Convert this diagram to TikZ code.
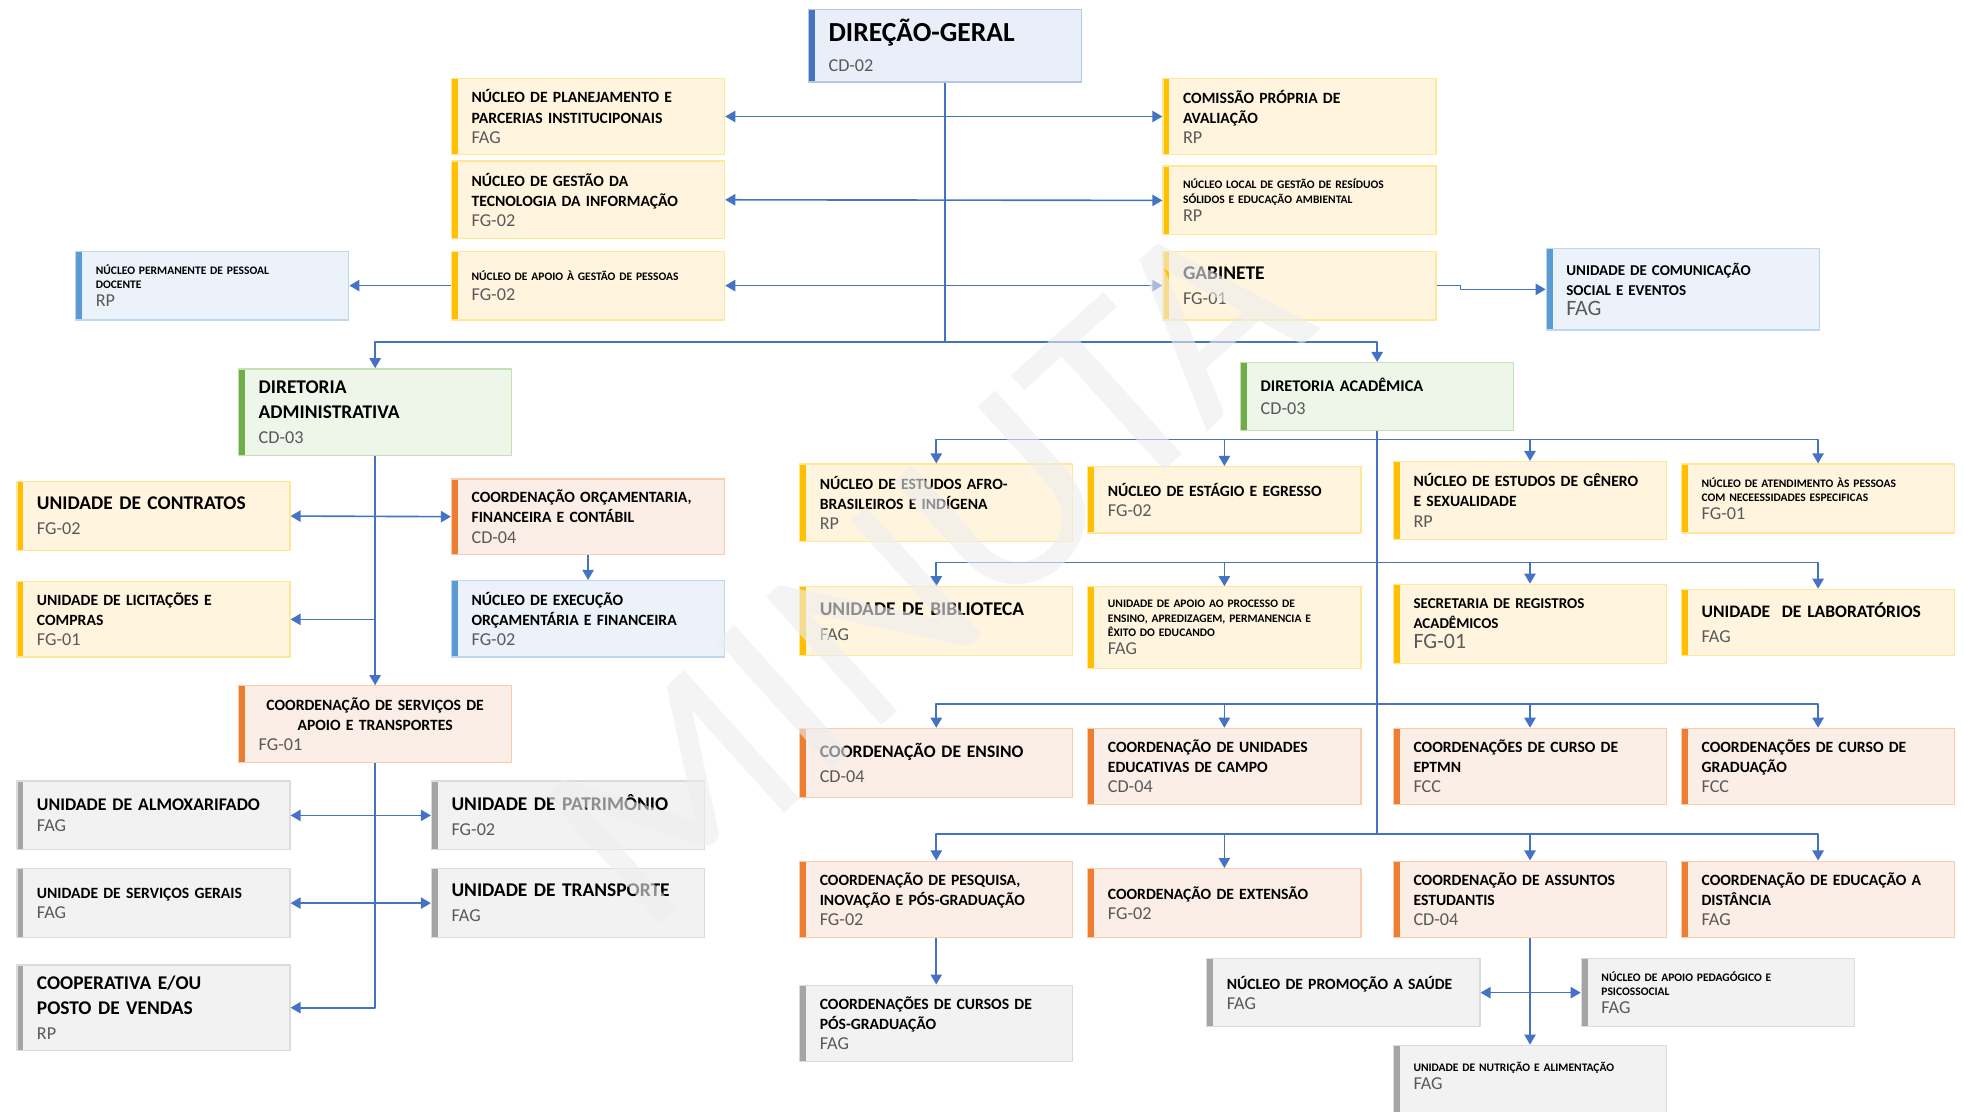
\documentclass[tikz,border=0pt]{standalone}
\usepackage{fontspec}
\setmainfont{Carlito}
\usetikzlibrary{arrows.meta}
\definecolor{amarelo}{HTML}{FFC000}\definecolor{amareloF}{HTML}{FFF5DF}\definecolor{amareloB}{HTML}{FFE699}
\definecolor{laranja}{HTML}{ED7D31}\definecolor{laranjaF}{HTML}{FBEEE6}\definecolor{laranjaB}{HTML}{F8CBAD}
\definecolor{azul}{HTML}{5B9BD5}\definecolor{azulF}{HTML}{EBF2FA}\definecolor{azulB}{HTML}{BDD7EE}
\definecolor{verde}{HTML}{70AD47}\definecolor{verdeF}{HTML}{EEF5E9}\definecolor{verdeB}{HTML}{C5E0B4}
\definecolor{cinza}{HTML}{A5A5A5}\definecolor{cinzaF}{HTML}{F2F2F2}\definecolor{cinzaB}{HTML}{DBDBDB}
\definecolor{anil}{HTML}{4472C4}\definecolor{anilF}{HTML}{E9EEF8}\definecolor{anilB}{HTML}{B4C7E7}
\definecolor{seta}{HTML}{4472C4}\definecolor{codigo}{HTML}{595959}\definecolor{marca}{HTML}{EDEDED}
\newcommand\cod[1]{{\mdseries\fontsize{14.5}{17}\selectfont\color{codigo}#1}}
\newcommand\codG[1]{{\mdseries\fontsize{17.5}{20}\selectfont\color{codigo}#1}}
\begin{document}
\begin{tikzpicture}[x=1pt,y=-1pt,>={Triangle[length=8pt,width=9pt]},line join=round,
	caixa/.style={anchor=north west,rectangle,draw=#1B,fill=#1F,line width=1pt,inner xsep=16pt,inner ysep=1pt,
		text width=186pt,minimum height=55,align=left,font=\bfseries\fontsize{12.5}{16}\selectfont,
		path picture={\fill[#1] ([xshift=-1pt]path picture bounding box.north west) rectangle ([xshift=5pt]path picture bounding box.south west);}},
	grande/.style={font=\bfseries\fontsize{15.5}{20}\selectfont},
	miudo/.style={font=\bfseries\fontsize{9.2}{11.5}\selectfont},
	liga/.style={seta,line width=1.3pt}]
	\useasboundingbox (0,0) rectangle (1568,887);
	\path (0,273) coordinate (nivel)
	(0,351) coordinate (r1) (0,449) coordinate (r2)
	(0,562) coordinate (r3) (0,666) coordinate (r4);
	% direcao geral e assessorias
	\node[caixa=anil,minimum height=58,font=\bfseries\fontsize{22}{24}\selectfont] (dg) at (645,7) {DIREÇÃO-GERAL\\\cod{CD-02}};
	\node[caixa=amarelo,minimum height=61] (nplan) at (360,62) {NÚCLEO DE PLANEJAMENTO E\\PARCERIAS INSTITUCIPONAIS\\\cod{FAG}};
	\node[caixa=amarelo,minimum height=62] (ngti) at (360,128) {NÚCLEO DE GESTÃO DA\\TECNOLOGIA DA INFORMAÇÃO\\\cod{FG-02}};
	\node[caixa=amarelo,miudo] (nagp) at (360,200) {NÚCLEO DE APOIO À GESTÃO DE PESSOAS\\[4pt]\cod{FG-02}\\[12pt]};
	\node[caixa=azul,miudo] (nppd) at (60,200) {NÚCLEO PERMANENTE DE PESSOAL\\DOCENTE\\[3pt]\cod{RP}};
	\node[caixa=amarelo,minimum height=61] (cpa) at (928,62) {COMISSÃO PRÓPRIA DE\\AVALIAÇÃO\\\cod{RP}};
	\node[caixa=amarelo,miudo] (nlgr) at (928,132) {NÚCLEO LOCAL DE GESTÃO DE RESÍDUOS\\SÓLIDOS E EDUCAÇÃO AMBIENTAL\\[3pt]\cod{RP}};
	\node[caixa=amarelo,grande] (gab) at (928,200) {GABINETE\\\cod{FG-01}};
	\node[caixa=azul,minimum height=65,font=\bfseries\fontsize{12}{16}\selectfont] (ucs) at (1234,198) {UNIDADE DE COMUNICAÇÃO\\SOCIAL E EVENTOS\\\codG{FAG}};
	\draw[liga] (dg.south) -- (dg.south |- nivel);
	\draw[liga,<->] (nplan.east) -- (cpa.west);
	\draw[liga,<->] (ngti.east) -- (nlgr.west);
	\draw[liga,<->] (nagp.east) -- (gab.west);
	\draw[liga,->] (nagp.west) -- (nppd.east);
	\draw[liga,->] (gab.east) -- ++(19,0) |- (ucs.west);
	% diretoria administrativa
	\node[caixa=verde,grande,minimum height=69] (da) at (190,294) {DIRETORIA\\ADMINISTRATIVA\\\cod{CD-03}};
	\node[caixa=amarelo,grande] (uc) at (13,384) {UNIDADE DE CONTRATOS\\\cod{FG-02}};
	\node[caixa=laranja,minimum height=60] (cofc) at (360,382) {COORDENAÇÃO ORÇAMENTARIA,\\FINANCEIRA E CONTÁBIL\\\cod{CD-04}};
	\node[caixa=azul,minimum height=61] (neof) at (360,463) {NÚCLEO DE EXECUÇÃO\\ORÇAMENTÁRIA E FINANCEIRA\\\cod{FG-02}};
	\node[caixa=amarelo,minimum height=60] (ulc) at (13,464) {UNIDADE DE LICITAÇÕES E\\COMPRAS\\\cod{FG-01}};
	\node[caixa=laranja,minimum height=61] (csat) at (190,547) {\makebox[186pt]{COORDENAÇÃO DE SERVIÇOS DE}\\\makebox[186pt]{APOIO E TRANSPORTES}\\\cod{FG-01}};
	\node[caixa=cinza,font=\bfseries\fontsize{14.2}{17}\selectfont] (ua) at (13,623) {UNIDADE DE ALMOXARIFADO\\\cod{FAG}};
	\node[caixa=cinza,grande] (up) at (344,623) {UNIDADE DE PATRIMÔNIO\\\cod{FG-02}};
	\node[caixa=cinza] (usg) at (13,693) {UNIDADE DE SERVIÇOS GERAIS\\\cod{FAG}\\[8pt]};
	\node[caixa=cinza,grande] (ut) at (344,693) {UNIDADE DE TRANSPORTE\\\cod{FAG}};
	\node[caixa=cinza,grande,minimum height=68] (coop) at (13,770) {COOPERATIVA E/OU\\POSTO DE VENDAS\\\cod{RP}};
	\draw[liga,->] (dg.south |- nivel) -| (da.north);
	\draw[liga,->] (da.south) -- (csat.north);
	\draw[liga,<->] (uc.east) -- (cofc.west);
	\draw[liga,->] (da.south |- ulc.east) -- (ulc.east);
	\draw[liga,->] (cofc.south) -- (neof.north);
	\draw[liga,->] (csat.south) |- (coop.east);
	\draw[liga,<->] (ua.east) -- (up.west);
	\draw[liga,<->] (usg.east) -- (ut.west);
	% diretoria academica
	\node[caixa=verde,font=\bfseries\fontsize{13}{18}\selectfont,minimum height=54] (dac) at (990,289) {DIRETORIA ACADÊMICA\\\cod{CD-03}};
	\node[caixa=amarelo,minimum height=62] (neab) at (638,370) {NÚCLEO DE ESTUDOS AFRO-\\BRASILEIROS E INDÍGENA\\\cod{RP}};
	\node[caixa=amarelo,minimum height=53] (nee) at (868,372) {NÚCLEO DE ESTÁGIO E EGRESSO\\\cod{FG-02}};
	\node[caixa=amarelo,minimum height=62] (negs) at (1112,368) {NÚCLEO DE ESTUDOS DE GÊNERO\\E SEXUALIDADE\\\cod{RP}};
	\node[caixa=amarelo,miudo] (napne) at (1342,370) {NÚCLEO DE ATENDIMENTO ÀS PESSOAS\\COM NECEESSIDADES ESPECIFICAS\\[3pt]\cod{FG-01}};
	\node[caixa=amarelo,grande] (ub) at (638,468) {UNIDADE DE BIBLIOTECA\\\cod{FAG}};
	\node[caixa=amarelo,miudo,minimum height=65] (uape) at (868,468) {UNIDADE DE APOIO AO PROCESSO DE\\ENSINO, APREDIZAGEM, PERMANENCIA E\\ÊXITO DO EDUCANDO\\[3pt]\cod{FAG}};
	\node[caixa=amarelo,minimum height=63,font=\bfseries\fontsize{12}{16}\selectfont] (sra) at (1112,466) {SECRETARIA DE REGISTROS\\ACADÊMICOS\\\codG{FG-01}};
	\node[caixa=amarelo,font=\bfseries\fontsize{14}{20}\selectfont,minimum height=53] (ul) at (1342,470) {\mbox{UNIDADE\ \ DE LABORATÓRIOS}\\\cod{FAG}};
	\node[caixa=laranja,font=\bfseries\fontsize{14}{20}\selectfont] (ce) at (638,581) {COORDENAÇÃO DE ENSINO\\\cod{CD-04}};
	\node[caixa=laranja,minimum height=61] (cuec) at (868,581) {COORDENAÇÃO DE UNIDADES\\EDUCATIVAS DE CAMPO\\\cod{CD-04}};
	\node[caixa=laranja,minimum height=61] (ccept) at (1112,581) {COORDENAÇÕES DE CURSO DE\\EPTMN\\\cod{FCC}};
	\node[caixa=laranja,minimum height=61] (ccg) at (1342,581) {COORDENAÇÕES DE CURSO DE\\GRADUAÇÃO\\\cod{FCC}};
	\node[caixa=laranja,minimum height=61] (cpipg) at (638,687) {COORDENAÇÃO DE PESQUISA,\\INOVAÇÃO E PÓS-GRADUAÇÃO\\\cod{FG-02}};
	\node[caixa=laranja] (cext) at (868,693) {COORDENAÇÃO DE EXTENSÃO\\\cod{FG-02}};
	\node[caixa=laranja,minimum height=61] (cae) at (1112,687) {COORDENAÇÃO DE ASSUNTOS\\ESTUDANTIS\\\cod{CD-04}};
	\node[caixa=laranja,minimum height=61] (cead) at (1342,687) {COORDENAÇÃO DE EDUCAÇÃO A\\DISTÂNCIA\\\cod{FAG}};
	\node[caixa=cinza,minimum height=61] (ccpg) at (638,786) {COORDENAÇÕES DE CURSOS DE\\PÓS-GRADUAÇÃO\\\cod{FAG}};
	\node[caixa=cinza,minimum height=54] (nps) at (963,765) {NÚCLEO DE PROMOÇÃO A SAÚDE\\\cod{FAG}\\[12pt]};
	\node[caixa=cinza,miudo,minimum height=54] (napp) at (1262,765) {NÚCLEO DE APOIO PEDAGÓGICO E\\PSICOSSOCIAL\\[3pt]\cod{FAG}};
	\node[caixa=cinza,miudo,minimum height=64,text depth=30pt] (una) at (1112,834) {UNIDADE DE NUTRIÇÃO E ALIMENTAÇÃO\\[3pt]\cod{FAG}};
	\draw[liga,->] (dg.south |- nivel) -| (dac.north);
	\draw[liga] (dac.south) -- (dac.south |- r4);
	\foreach \n in {neab,nee,negs,napne} \draw[liga,->] (dac.south |- r1) -| (\n.north);
	\foreach \n in {ub,uape,sra,ul} \draw[liga,->] (dac.south |- r2) -| (\n.north);
	\foreach \n in {ce,cuec,ccept,ccg} \draw[liga,->] (dac.south |- r3) -| (\n.north);
	\foreach \n in {cpipg,cext,cae,cead} \draw[liga,->] (dac.south |- r4) -| (\n.north);
	\draw[liga,->] (cpipg.south) -- (ccpg.north);
	\draw[liga,->] (cae.south) -- (una.north);
	\draw[liga,<->] (nps.east) -- (napp.west);
	% marca d'agua
	\node[rotate=42,text=marca,text opacity=0.6,font=\fontsize{215}{215}\selectfont] (minuta) at (740,455) {MINUTA};
\end{tikzpicture}
\end{document}
